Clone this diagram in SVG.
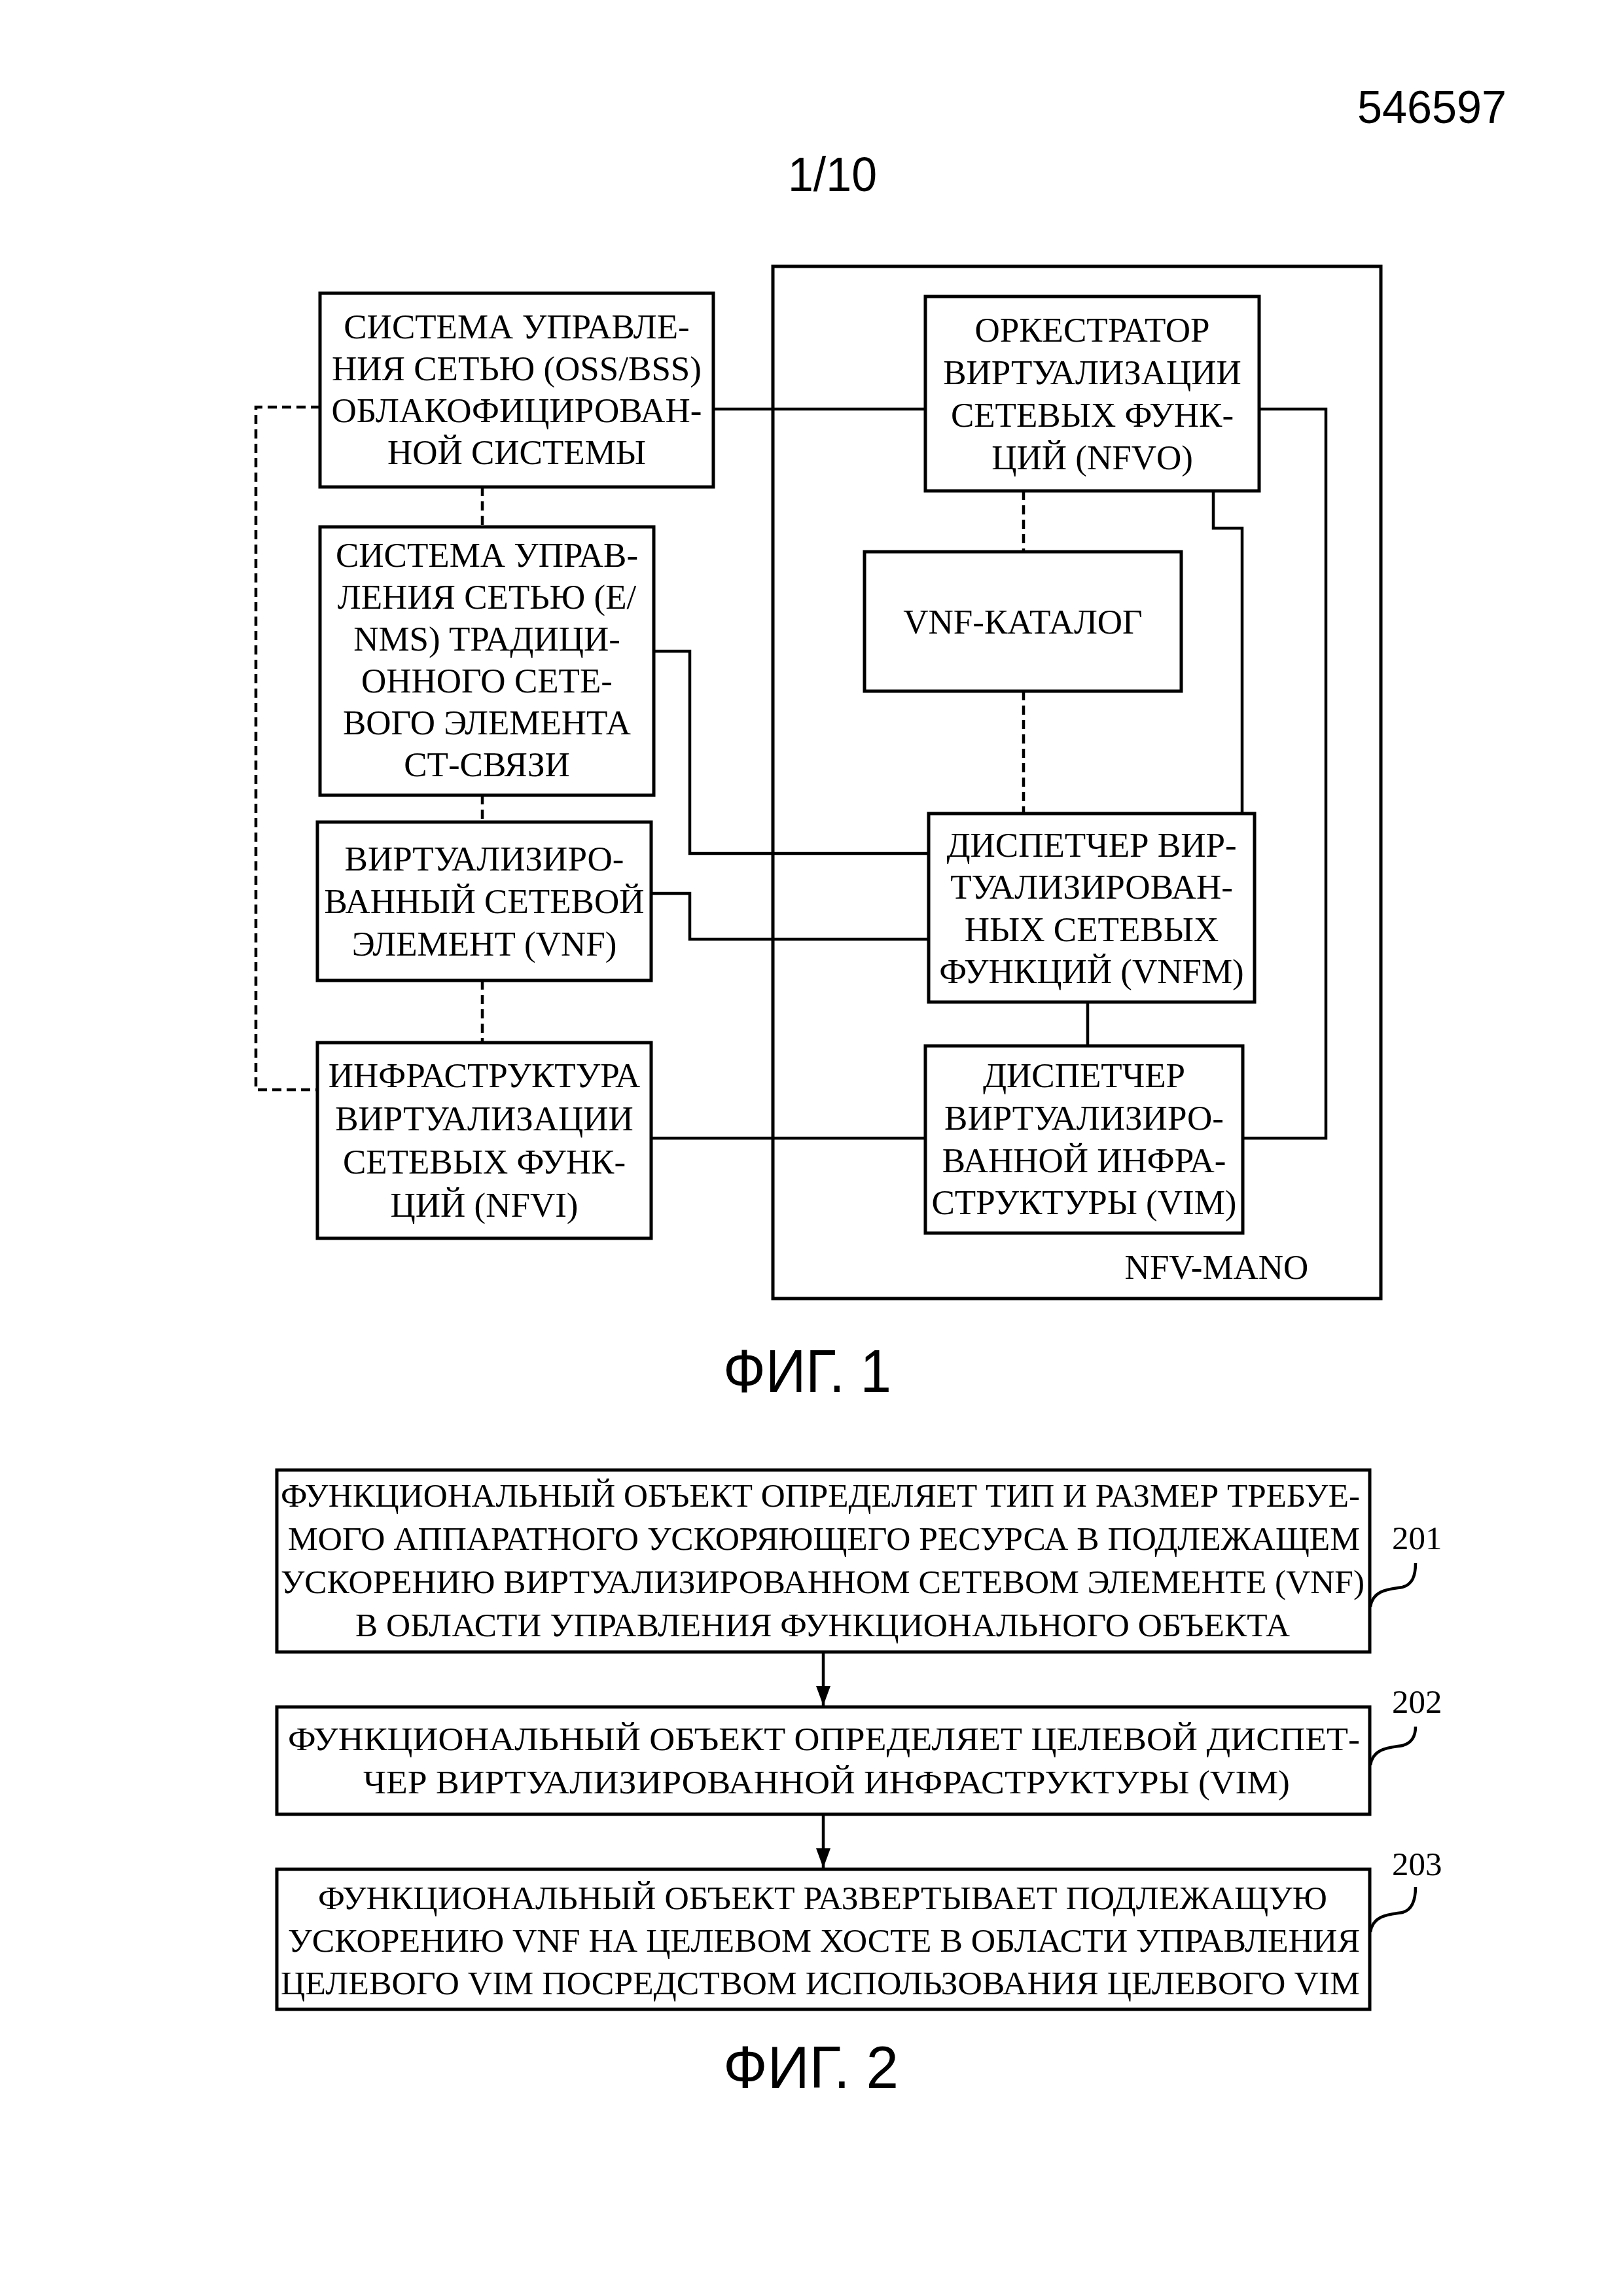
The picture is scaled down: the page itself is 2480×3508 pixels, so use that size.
<svg xmlns="http://www.w3.org/2000/svg" width="2480" height="3508" viewBox="0 0 2480 3508">
<defs>
<style>
.bg{fill:#fff}
.box{fill:none;stroke:#000;stroke-width:5}
.ln{fill:none;stroke:#000;stroke-width:4.5}
.dash{fill:none;stroke:#000;stroke-width:4.5;stroke-dasharray:14 8}
.t{font-family:"Liberation Serif","Times New Roman",serif;font-size:53px;fill:#000;text-anchor:middle}
.t2{font-family:"Liberation Serif","Times New Roman",serif;font-size:50px;fill:#000;text-anchor:middle}
.num{font-family:"Liberation Serif","Times New Roman",serif;font-size:51px;fill:#000}
.hd{font-family:"Liberation Sans",Arial,sans-serif;fill:#000}
</style>
<marker id="ah" markerWidth="30" markerHeight="22" refX="30" refY="11" orient="auto" markerUnits="userSpaceOnUse" viewBox="0 0 30 22">
<path d="M0,0 L30,11 L0,22 Z" fill="#000"/>
</marker>
</defs>
<rect class="bg" x="0" y="0" width="2480" height="3508"/>

<text class="hd" x="2074" y="188" font-size="70" textLength="228" lengthAdjust="spacingAndGlyphs">546597</text>
<text class="hd" x="1204" y="292" font-size="74" textLength="136" lengthAdjust="spacingAndGlyphs">1/10</text>

<g id="connectors">
<path class="ln" d="M1090,625 H1414"/>
<path class="ln" d="M1924,625 H2026 V1739 H1899"/>
<path class="ln" d="M1854,750 V807 H1898 V1243"/>
<path class="dash" d="M1564,750 V843"/>
<path class="dash" d="M1564,1056 V1243"/>
<path class="ln" d="M1662,1531 V1598"/>
<path class="ln" d="M999,995 H1054 V1304 H1419"/>
<path class="ln" d="M995,1365 H1054 V1435 H1419"/>
<path class="ln" d="M995,1739 H1414"/>
<path class="dash" d="M737,744 V805"/>
<path class="dash" d="M737,1215 V1256"/>
<path class="dash" d="M737,1498 V1593"/>
<path class="dash" d="M489,622 H391 V1665 H485"/>
<path class="ln" d="M1258,2524 V2606" marker-end="url(#ah)"/>
<path class="ln" d="M1258,2772 V2854" marker-end="url(#ah)"/>
<path class="ln" d="M2094,2455 C2098,2428 2125,2428 2143,2425 C2158,2421 2163,2408 2163,2388"/>
<path class="ln" d="M2094,2697 C2098,2670 2125,2670 2143,2667 C2158,2663 2163,2652 2163,2638"/>
<path class="ln" d="M2094,2952 C2098,2925 2125,2925 2143,2922 C2158,2918 2163,2903 2163,2883"/>
</g>

<g id="nfv-mano">
<rect class="box" x="1181" y="407" width="929" height="1577"/>
<text class="t" x="1859" y="1954">NFV-MANO</text>
</g>

<g id="oss-bss">
<rect class="box" x="489" y="448" width="601" height="296"/>
<text class="t" x="789.5" y="517">СИСТЕМА УПРАВЛЕ-</text>
<text class="t" x="789.5" y="581">НИЯ СЕТЬЮ (OSS/BSS)</text>
<text class="t" x="789.5" y="645">ОБЛАКОФИЦИРОВАН-</text>
<text class="t" x="789.5" y="709">НОЙ СИСТЕМЫ</text>
</g>

<g id="e-nms">
<rect class="box" x="489" y="805" width="510" height="410"/>
<text class="t" x="744" y="866">СИСТЕМА УПРАВ-</text>
<text class="t" x="744" y="930">ЛЕНИЯ СЕТЬЮ (E/</text>
<text class="t" x="744" y="994">NMS) ТРАДИЦИ-</text>
<text class="t" x="744" y="1058">ОННОГО СЕТЕ-</text>
<text class="t" x="744" y="1122">ВОГО ЭЛЕМЕНТА</text>
<text class="t" x="744" y="1186">СТ-СВЯЗИ</text>
</g>

<g id="vnf">
<rect class="box" x="485" y="1256" width="510" height="242"/>
<text class="t" x="740" y="1330">ВИРТУАЛИЗИРО-</text>
<text class="t" x="740" y="1395">ВАННЫЙ СЕТЕВОЙ</text>
<text class="t" x="740" y="1460">ЭЛЕМЕНТ (VNF)</text>
</g>

<g id="nfvi">
<rect class="box" x="485" y="1593" width="510" height="299"/>
<text class="t" x="740" y="1661">ИНФРАСТРУКТУРА</text>
<text class="t" x="740" y="1727">ВИРТУАЛИЗАЦИИ</text>
<text class="t" x="740" y="1793">СЕТЕВЫХ ФУНК-</text>
<text class="t" x="740" y="1859">ЦИЙ (NFVI)</text>
</g>

<g id="nfvo">
<rect class="box" x="1414" y="453" width="510" height="297"/>
<text class="t" x="1669" y="522">ОРКЕСТРАТОР</text>
<text class="t" x="1669" y="587">ВИРТУАЛИЗАЦИИ</text>
<text class="t" x="1669" y="652">СЕТЕВЫХ ФУНК-</text>
<text class="t" x="1669" y="717">ЦИЙ (NFVO)</text>
</g>

<g id="vnf-catalog">
<rect class="box" x="1321" y="843" width="484" height="213"/>
<text class="t" x="1563" y="968">VNF-КАТАЛОГ</text>
</g>

<g id="vnfm">
<rect class="box" x="1419" y="1243" width="498" height="288"/>
<text class="t" x="1668" y="1309">ДИСПЕТЧЕР ВИР-</text>
<text class="t" x="1668" y="1373">ТУАЛИЗИРОВАН-</text>
<text class="t" x="1668" y="1438">НЫХ СЕТЕВЫХ</text>
<text class="t" x="1668" y="1502">ФУНКЦИЙ (VNFM)</text>
</g>

<g id="vim">
<rect class="box" x="1414" y="1598" width="485" height="286"/>
<text class="t" x="1656.5" y="1661">ДИСПЕТЧЕР</text>
<text class="t" x="1656.5" y="1726">ВИРТУАЛИЗИРО-</text>
<text class="t" x="1656.5" y="1791">ВАННОЙ ИНФРА-</text>
<text class="t" x="1656.5" y="1855">СТРУКТУРЫ (VIM)</text>
</g>

<text class="hd" x="1105" y="2127" font-size="92" textLength="257" lengthAdjust="spacingAndGlyphs">ФИГ. 1</text>

<g id="step-201">
<rect class="box" x="423" y="2246" width="1670" height="278"/>
<text class="t2" x="1253.5" y="2302" textLength="1649" lengthAdjust="spacingAndGlyphs">ФУНКЦИОНАЛЬНЫЙ ОБЪЕКТ ОПРЕДЕЛЯЕТ ТИП И РАЗМЕР ТРЕБУЕ-</text>
<text class="t2" x="1259" y="2368" textLength="1638" lengthAdjust="spacingAndGlyphs">МОГО АППАРАТНОГО УСКОРЯЮЩЕГО РЕСУРСА В ПОДЛЕЖАЩЕМ</text>
<text class="t2" x="1257" y="2434" textLength="1656" lengthAdjust="spacingAndGlyphs">УСКОРЕНИЮ ВИРТУАЛИЗИРОВАННОМ СЕТЕВОМ ЭЛЕМЕНТЕ (VNF)</text>
<text class="t2" x="1257" y="2500" textLength="1428" lengthAdjust="spacingAndGlyphs">В ОБЛАСТИ УПРАВЛЕНИЯ ФУНКЦИОНАЛЬНОГО ОБЪЕКТА</text>
<text class="num" x="2127" y="2367">201</text>
</g>

<g id="step-202">
<rect class="box" x="423" y="2608" width="1670" height="164"/>
<text class="t2" x="1259" y="2674" textLength="1638" lengthAdjust="spacingAndGlyphs">ФУНКЦИОНАЛЬНЫЙ ОБЪЕКТ ОПРЕДЕЛЯЕТ ЦЕЛЕВОЙ ДИСПЕТ-</text>
<text class="t2" x="1263" y="2740" textLength="1416" lengthAdjust="spacingAndGlyphs">ЧЕР ВИРТУАЛИЗИРОВАННОЙ ИНФРАСТРУКТУРЫ (VIM)</text>
<text class="num" x="2127" y="2617">202</text>
</g>

<g id="step-203">
<rect class="box" x="423" y="2856" width="1670" height="214"/>
<text class="t2" x="1257" y="2917" textLength="1542" lengthAdjust="spacingAndGlyphs">ФУНКЦИОНАЛЬНЫЙ ОБЪЕКТ РАЗВЕРТЫВАЕТ ПОДЛЕЖАЩУЮ</text>
<text class="t2" x="1259" y="2982" textLength="1638" lengthAdjust="spacingAndGlyphs">УСКОРЕНИЮ VNF НА ЦЕЛЕВОМ ХОСТЕ В ОБЛАСТИ УПРАВЛЕНИЯ</text>
<text class="t2" x="1253.5" y="3047" textLength="1649" lengthAdjust="spacingAndGlyphs">ЦЕЛЕВОГО VIM ПОСРЕДСТВОМ ИСПОЛЬЗОВАНИЯ ЦЕЛЕВОГО VIM</text>
<text class="num" x="2127" y="2865">203</text>
</g>

<text class="hd" x="1105" y="3190" font-size="91" textLength="268" lengthAdjust="spacingAndGlyphs">ФИГ. 2</text>
</svg>
